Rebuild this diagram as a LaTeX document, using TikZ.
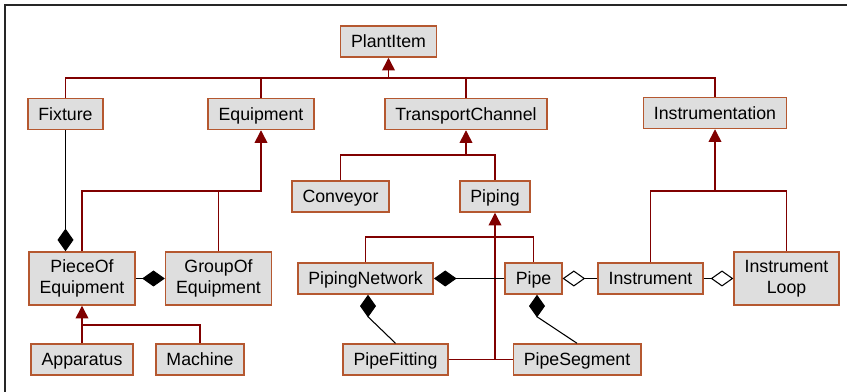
\documentclass[tikz,border=0pt]{standalone}
\usepackage{fontspec}
\setmainfont{Liberation Sans}
\usepackage{tikz}
\usetikzlibrary{arrows.meta,calc}
\definecolor{boxline}{RGB}{181,88,48}
\definecolor{boxfill}{RGB}{222,222,222}
\definecolor{genred}{RGB}{128,0,0}

\begin{document}
\begin{tikzpicture}[
    x=0.75pt, y=-0.75pt,
    >={Triangle[length=9.5pt,width=9.5pt]},
    cls/.style={
        draw=boxline,
        fill=boxfill,
        line width=1.1pt,
        inner xsep=7.9pt,
        minimum height=23.25pt,
        text height=9.5pt,
        text depth=0pt,
        align=center,
        font=\fontsize{13.3}{15.5}\selectfont
    },
    twoline/.style={cls, text height=, text depth=, minimum height=39.75pt},
    gen/.style={draw=genred, line width=1.1pt},
    comp/.style={draw=black, line width=0.8pt, -{Diamond[length=17pt,width=12pt]}},
    agg/.style={draw=black, line width=0.8pt, -{Diamond[open,fill=white,length=17pt,width=12pt]}}
]

    \useasboundingbox (0,0) rectangle (847,392);

    % frame
    \draw[line width=1.5pt, black!85] (5,392) -- (5,5) -- (847,5);

    % classes
    \node[cls] (plantitem) at (388.5,41.5) {PlantItem};
    \node[cls] (fixture) at (65.5,114) {Fixture};
    \node[cls] (equipment) at (261,114) {Equipment};
    \node[cls] (transport) at (466,114) {TransportChannel};
    \node[cls] (instrumentation) at (715,113) {Instrumentation};
    \node[cls] (conveyor) at (340.5,196.5) {Conveyor};
    \node[cls] (piping) at (495,196.5) {Piping};
    \node[twoline] (piece) at (82,278.5) {PieceOf\\Equipment};
    \node[twoline] (group) at (218.5,278.5) {GroupOf\\Equipment};
    \node[cls] (network) at (365.5,278.5) {PipingNetwork};
    \node[cls] (pipe) at (533.5,278.5) {Pipe};
    \node[cls] (instrument) at (650.5,278.5) {Instrument};
    \node[twoline] (loop) at (786.5,278.5) {Instrument\\Loop};
    \node[cls] (apparatus) at (82,359.5) {Apparatus};
    \node[cls] (machine) at (200,359.5) {Machine};
    \node[cls] (fitting) at (395.5,359.5) {PipeFitting};
    \node[cls] (segment) at (577,359.5) {PipeSegment};

    % bus points
    \coordinate (plantbus) at (388.5,78);
    \coordinate (equipbus) at (261,191);
    \coordinate (transbus) at (466,155);
    \coordinate (instbus) at (715,191);
    \coordinate (piecebus) at (82,325);
    \coordinate (pipebus) at (495,237);

    % PlantItem
    \draw[gen, ->] (plantbus) -- (plantitem.south);
    \draw[gen] (fixture.north) |- (plantbus) -| (instrumentation.north);
    \draw[gen] (equipment.north) -- (equipment.north |- plantbus);
    \draw[gen] (transport.north) -- (transport.north |- plantbus);

    % Equipment
    \draw[gen, ->] (piece.north) |- (equipbus) -- (equipment.south);
    \draw[gen] (group.north) -- (group.north |- equipbus);

    % TransportChannel
    \draw[gen, ->] (transbus) -- (transport.south);
    \draw[gen] (conveyor.north) |- (transbus) -| (piping.north);

    % Instrumentation
    \draw[gen, ->] (instbus) -- (instrumentation.south);
    \draw[gen] (instrument.north) |- (instbus) -| (loop.north);

    % PieceOfEquipment
    \draw[gen, ->] (apparatus.north) -- (piece.south);
    \draw[gen] (machine.north) |- (piecebus);

    % Piping
    \draw[gen] (fitting.east) -- (segment.west);
    \draw[gen, ->] (fitting.east -| piping.south) -- (piping.south);
    \draw[gen] (network.north) |- (pipebus) -| (pipe.north);

    % composition
    \draw[comp] (fixture.south) -- (fixture.south |- piece.north);
    \draw[comp] (piece.east) -- (group.west);
    \draw[comp] (pipe.west) -- (network.east);
    \draw[comp] (fitting.north) -- ($(network.south)+(2.5,22)$) -- ($(network.south)+(2.5,0)$);
    \draw[comp] (segment.north) -- ($(pipe.south)+(3.5,22)$) -- ($(pipe.south)+(3.5,0)$);

    % aggregation
    \draw[agg] (instrument.west) -- (pipe.east);
    \draw[agg] (instrument.east) -- (loop.west);

\end{tikzpicture}
\end{document}
